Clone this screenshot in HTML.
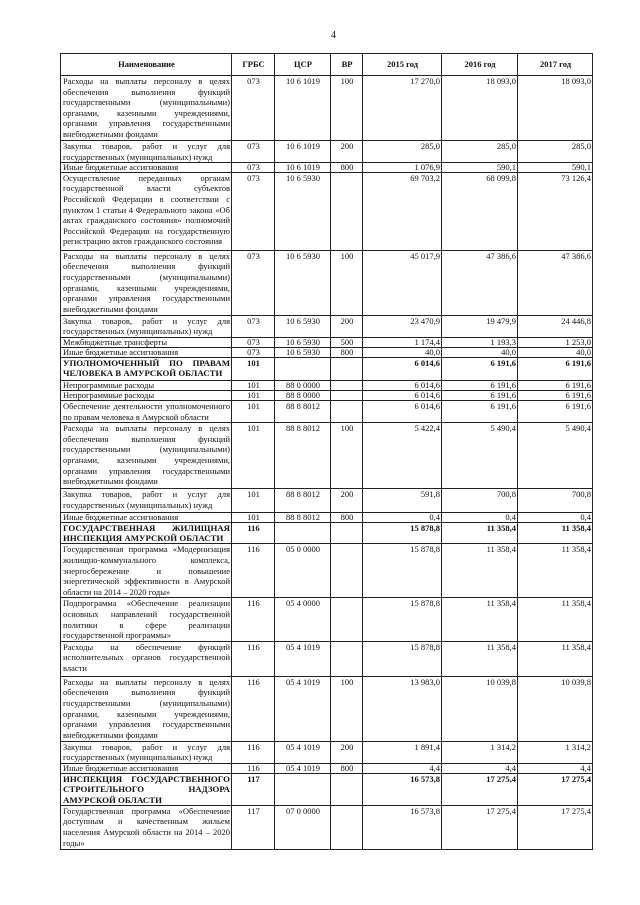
<!DOCTYPE html>
<html><head><meta charset="utf-8">
<style>
html,body{margin:0;padding:0;background:#fff;}
body{width:640px;height:905px;position:relative;overflow:hidden;font-family:"Liberation Serif","DejaVu Serif",serif;color:#111;}
.pn{position:absolute;left:331px;top:30px;font-size:10px;}
table{position:absolute;left:60px;top:53px;border-collapse:collapse;table-layout:fixed;width:532px;}
td{border:1px solid #222;font-size:8.5px;line-height:10.6px;vertical-align:top;padding:0 1px 0 2px;overflow:hidden;}
tr.s td{line-height:8.6px;}
td.n{text-align:justify;text-align-last:left;}
td.c{text-align:center;}
td.r{text-align:right;padding-right:1px;}
tr.h td{font-weight:bold;vertical-align:middle;text-align:center;}
tr.b td{font-weight:bold;}
tr.b td.n{font-size:8.8px;line-height:10.3px;}
</style></head><body>
<div class="pn">4</div>
<table>
<colgroup><col style="width:171px"><col style="width:43px"><col style="width:56px"><col style="width:32px"><col style="width:79px"><col style="width:76px"><col style="width:75px"></colgroup>
<tr class="h" style="height:22px"><td>Наименование</td><td>ГРБС</td><td>ЦСР</td><td>ВР</td><td>2015 год</td><td>2016 год</td><td>2017 год</td></tr>
<tr style="height:65px"><td class="n">Расходы на выплаты персоналу в целях обеспечения выполнения функций государственными (муниципальными) органами, казенными учреждениями, органами управления государственными внебюджетными фондами</td><td class="c">073</td><td class="c">10 6 1019</td><td class="c">100</td><td class="r">17 270,0</td><td class="r">18 093,0</td><td class="r">18 093,0</td></tr>
<tr style="height:21px"><td class="n">Закупка товаров, работ и услуг для государственных (муниципальных) нужд</td><td class="c">073</td><td class="c">10 6 1019</td><td class="c">200</td><td class="r">285,0</td><td class="r">285,0</td><td class="r">285,0</td></tr>
<tr class="s" style="height:9px"><td class="n">Иные бюджетные ассигнования</td><td class="c">073</td><td class="c">10 6 1019</td><td class="c">800</td><td class="r">1 076,9</td><td class="r">590,1</td><td class="r">590,1</td></tr>
<tr style="height:78px"><td class="n">Осуществление переданных органам государственной власти субъектов Российской Федерации в соответствии с пунктом 1 статьи 4 Федерального закона «Об актах гражданского состояния» полномочий Российской Федерации на государственную регистрацию актов гражданского состояния</td><td class="c">073</td><td class="c">10 6 5930</td><td class="c"></td><td class="r">69 703,2</td><td class="r">68 099,8</td><td class="r">73 126,4</td></tr>
<tr style="height:65px"><td class="n">Расходы на выплаты персоналу в целях обеспечения выполнения функций государственными (муниципальными) органами, казенными учреждениями, органами управления государственными внебюджетными фондами</td><td class="c">073</td><td class="c">10 6 5930</td><td class="c">100</td><td class="r">45 017,9</td><td class="r">47 386,6</td><td class="r">47 386,6</td></tr>
<tr style="height:21px"><td class="n">Закупка товаров, работ и услуг для государственных (муниципальных) нужд</td><td class="c">073</td><td class="c">10 6 5930</td><td class="c">200</td><td class="r">23 470,9</td><td class="r">19 479,9</td><td class="r">24 446,8</td></tr>
<tr class="s" style="height:10px"><td class="n">Межбюджетные трансферты</td><td class="c">073</td><td class="c">10 6 5930</td><td class="c">500</td><td class="r">1 174,4</td><td class="r">1 193,3</td><td class="r">1 253,0</td></tr>
<tr class="s" style="height:10px"><td class="n">Иные бюджетные ассигнования</td><td class="c">073</td><td class="c">10 6 5930</td><td class="c">800</td><td class="r">40,0</td><td class="r">40,0</td><td class="r">40,0</td></tr>
<tr class="b" style="height:23px"><td class="n">УПОЛНОМОЧЕННЫЙ ПО ПРАВАМ ЧЕЛОВЕКА В АМУРСКОЙ ОБЛАСТИ</td><td class="c">101</td><td class="c"></td><td class="c"></td><td class="r">6 014,6</td><td class="r">6 191,6</td><td class="r">6 191,6</td></tr>
<tr class="s" style="height:10px"><td class="n">Непрограммные расходы</td><td class="c">101</td><td class="c">88 0 0000</td><td class="c"></td><td class="r">6 014,6</td><td class="r">6 191,6</td><td class="r">6 191,6</td></tr>
<tr class="s" style="height:10px"><td class="n">Непрограммные расходы</td><td class="c">101</td><td class="c">88 8 0000</td><td class="c"></td><td class="r">6 014,6</td><td class="r">6 191,6</td><td class="r">6 191,6</td></tr>
<tr style="height:22px"><td class="n">Обеспечение деятельности уполномоченного по правам человека в Амурской области</td><td class="c">101</td><td class="c">88 8 8012</td><td class="c"></td><td class="r">6 014,6</td><td class="r">6 191,6</td><td class="r">6 191,6</td></tr>
<tr style="height:66px"><td class="n">Расходы на выплаты персоналу в целях обеспечения выполнения функций государственными (муниципальными) органами, казенными учреждениями, органами управления государственными внебюджетными фондами</td><td class="c">101</td><td class="c">88 8 8012</td><td class="c">100</td><td class="r">5 422,4</td><td class="r">5 490,4</td><td class="r">5 490,4</td></tr>
<tr style="height:24px"><td class="n">Закупка товаров, работ и услуг для государственных (муниципальных) нужд</td><td class="c">101</td><td class="c">88 8 8012</td><td class="c">200</td><td class="r">591,8</td><td class="r">700,8</td><td class="r">700,8</td></tr>
<tr class="s" style="height:9px"><td class="n">Иные бюджетные ассигнования</td><td class="c">101</td><td class="c">88 8 8012</td><td class="c">800</td><td class="r">0,4</td><td class="r">0,4</td><td class="r">0,4</td></tr>
<tr class="b" style="height:20px"><td class="n">ГОСУДАРСТВЕННАЯ ЖИЛИЩНАЯ ИНСПЕКЦИЯ АМУРСКОЙ ОБЛАСТИ</td><td class="c">116</td><td class="c"></td><td class="c"></td><td class="r">15 878,8</td><td class="r">11 358,4</td><td class="r">11 358,4</td></tr>
<tr style="height:54px"><td class="n">Государственная программа «Модернизация жилищно-коммунального комплекса, энергосбережение и повышение энергетической эффективности в Амурской области на 2014 – 2020 годы»</td><td class="c">116</td><td class="c">05 0 0000</td><td class="c"></td><td class="r">15 878,8</td><td class="r">11 358,4</td><td class="r">11 358,4</td></tr>
<tr style="height:42px"><td class="n">Подпрограмма «Обеспечение реализации основных направлений государственной политики в сфере реализации государственной программы»</td><td class="c">116</td><td class="c">05 4 0000</td><td class="c"></td><td class="r">15 878,8</td><td class="r">11 358,4</td><td class="r">11 358,4</td></tr>
<tr style="height:35px"><td class="n">Расходы на обеспечение функций исполнительных органов государственной власти</td><td class="c">116</td><td class="c">05 4 1019</td><td class="c"></td><td class="r">15 878,8</td><td class="r">11 358,4</td><td class="r">11 358,4</td></tr>
<tr style="height:65px"><td class="n">Расходы на выплаты персоналу в целях обеспечения выполнения функций государственными (муниципальными) органами, казенными учреждениями, органами управления государственными внебюджетными фондами</td><td class="c">116</td><td class="c">05 4 1019</td><td class="c">100</td><td class="r">13 983,0</td><td class="r">10 039,8</td><td class="r">10 039,8</td></tr>
<tr style="height:21px"><td class="n">Закупка товаров, работ и услуг для государственных (муниципальных) нужд</td><td class="c">116</td><td class="c">05 4 1019</td><td class="c">200</td><td class="r">1 891,4</td><td class="r">1 314,2</td><td class="r">1 314,2</td></tr>
<tr class="s" style="height:10px"><td class="n">Иные бюджетные ассигнования</td><td class="c">116</td><td class="c">05 4 1019</td><td class="c">800</td><td class="r">4,4</td><td class="r">4,4</td><td class="r">4,4</td></tr>
<tr class="b" style="height:30px"><td class="n">ИНСПЕКЦИЯ ГОСУДАРСТВЕННОГО СТРОИТЕЛЬНОГО НАДЗОРА АМУРСКОЙ ОБЛАСТИ</td><td class="c">117</td><td class="c"></td><td class="c"></td><td class="r">16 573,8</td><td class="r">17 275,4</td><td class="r">17 275,4</td></tr>
<tr style="height:44px"><td class="n">Государственная программа «Обеспечение доступным и качественным жильем населения Амурской области на 2014 – 2020 годы»</td><td class="c">117</td><td class="c">07 0 0000</td><td class="c"></td><td class="r">16 573,8</td><td class="r">17 275,4</td><td class="r">17 275,4</td></tr>
</table>
</body></html>
